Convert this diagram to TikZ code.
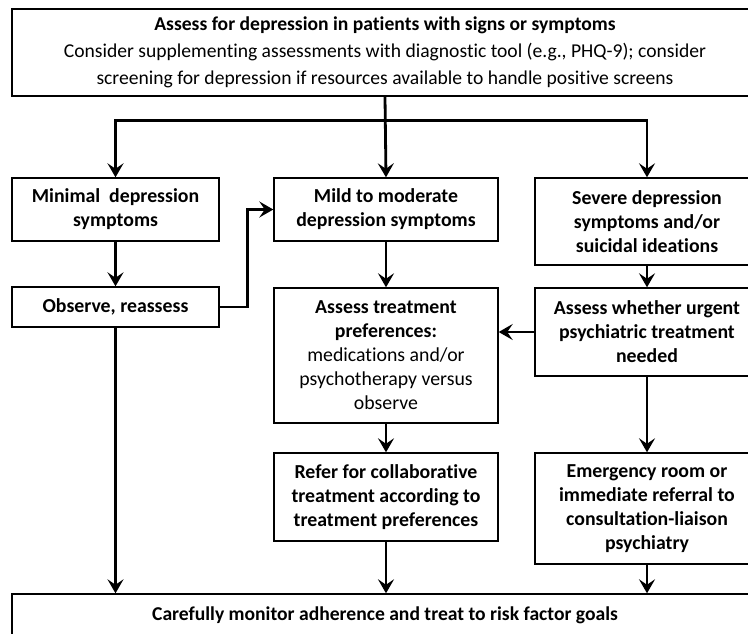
\documentclass[tikz,border=0pt]{standalone}
\usepackage{fontspec}
\setmainfont{Carlito}[Ligatures=NoCommon]
\usetikzlibrary{arrows.meta,calc}
\begin{document}
\begin{tikzpicture}[x=1pt,y=-1pt,
  box/.style={draw, line width=1.4pt, align=center, inner sep=0pt,
    font=\fontsize{19.8}{24}\selectfont},
  arr/.style={line width=2.8pt, line join=miter,
    -{Stealth[length=14pt,width=16pt,inset=5.5pt]}},
]
\useasboundingbox (0,0) rectangle (748,633);
\clip (0,0) rectangle (748,633);

\node[box, minimum width=746pt, minimum height=87pt,
      font=\fontsize{19.6}{27}\selectfont] (top) at (385,52.5)
  {\textbf{Assess for depression in patients with signs or symptoms}\\
   Consider supplementing assessments with diagnostic tool (e.g., PHQ-9); consider\\
   screening for depression if resources available to handle positive screens};

\node[box, minimum width=207pt, minimum height=63pt] (minimal) at (115.5,209.5)
  {\textbf{Minimal\ \ depression}\\\textbf{symptoms}};
\node[box, minimum width=207pt, minimum height=40pt] (observe) at (115.5,307)
  {\textbf{Observe, reassess}};

\node[box, minimum width=224pt, minimum height=63pt] (mild) at (386,209.5)
  {\textbf{Mild to moderate}\\\textbf{depression symptoms}};
\node[box, minimum width=224pt, minimum height=135pt] (pref) at (386,355.5)
  {\textbf{Assess treatment}\\\textbf{preferences:}\\medications and/or\\psychotherapy versus\\observe};
\node[box, minimum width=224pt, minimum height=88pt] (refer) at (386,497)
  {\textbf{Refer for collaborative}\\\textbf{treatment according to}\\\textbf{treatment preferences}};

\node[box, minimum width=224pt, minimum height=87pt] (severe) at (647,221.5)
  {\textbf{Severe depression}\\\textbf{symptoms and/or}\\\textbf{suicidal ideations}};
\node[box, minimum width=224pt, minimum height=88pt] (urgent) at (647,332)
  {\textbf{Assess whether urgent}\\\textbf{psychiatric treatment}\\\textbf{needed}};
\node[box, minimum width=224pt, minimum height=111pt] (emerg) at (647,508.5)
  {\textbf{Emergency room or}\\\textbf{immediate referral to}\\\textbf{consultation-liaison}\\\textbf{psychiatry}};

\node[box, minimum width=746pt, minimum height=42pt,
      font=\fontsize{19.6}{24}\selectfont] (monitor) at (385,615)
  {\textbf{Carefully monitor adherence and treat to risk factor goals}};

\coordinate (branch) at ($(top.south)+(0,24)$);
\draw[arr] (top.south) -- (mild.north);
\draw[arr] (branch) -| (minimal.north);
\draw[arr] (branch) -| (severe.north);
\draw[arr] (minimal.south) -- (observe.north);
\draw[arr] (observe.east) -- ++(28,0) |- (mild.west);
\draw[arr] (observe.south) -- (observe.south |- monitor.north);
\draw[arr] (mild.south) -- (pref.north);
\draw[arr] (severe.south) -- (urgent.north);
\draw[arr] (urgent.west) -- (urgent.west -| pref.east);
\draw[arr] (pref.south) -- (refer.north);
\draw[arr] (urgent.south) -- (emerg.north);
\draw[arr] (refer.south) -- (refer.south |- monitor.north);
\draw[arr] (emerg.south) -- (emerg.south |- monitor.north);
\end{tikzpicture}
\end{document}
